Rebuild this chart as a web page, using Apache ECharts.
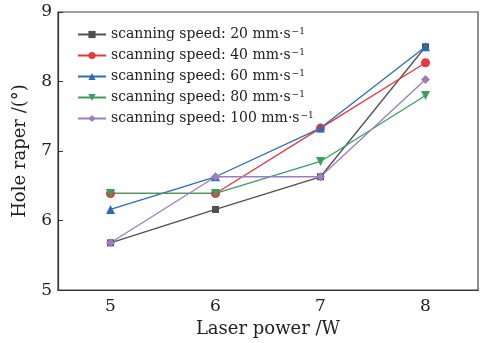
<!DOCTYPE html>
<html>
<head>
<meta charset="utf-8">
<script src="https://cdn.jsdelivr.net/npm/echarts@6/dist/echarts.min.js"></script>
<style>
  html, body { margin: 0; padding: 0; background: #fff; }
  #chart { width: 487px; height: 343px; }
</style>
</head>
<body>
<div id="chart"></div>
<script>
// Laser power (W) on the x axis
const powers = ['5', '6', '7', '8'];
// Scanning speeds (mm/s), one line each
const speeds = ['20', '40', '60', '80', '100'];
// Hole taper (degrees) per scanning speed
const taper20 = [5.68, 6.16, 6.63, 8.50];
const taper40 = [6.39, 6.39, 7.33, 8.27];
const taper60 = [6.16, 6.63, 7.33, 8.50];
const taper80 = [6.39, 6.39, 6.85, 7.80];
const taper100 = [5.68, 6.63, 6.63, 8.03];

const seriesData = [taper20, taper40, taper60, taper80, taper100];
const colors = ['#505050', '#e5393e', '#2b6db5', '#3b9e5e', '#9d7cc0'];
const symbols = ['rect', 'circle', 'triangle', 'triangle', 'diamond'];
const rotations = [0, 0, 0, 180, 0];
const sizes = [7, 9, 9, 9, 9];

const FONT = 'DejaVu Serif';

const chart = echarts.init(document.getElementById('chart'), null, { renderer: 'canvas' });

chart.setOption({
  animation: false,
  backgroundColor: '#fff',
  grid: {
    left: 58, right: 9, top: 12, bottom: 48,
    show: true, borderColor: '#444', borderWidth: 1.2, backgroundColor: 'transparent'
  },
  legend: {
    orient: 'vertical',
    left: 72, top: 22,
    itemWidth: 28, itemHeight: 9, itemGap: 6.5,
    data: speeds,
    formatter: name => 'scanning speed: ' + name + ' mm\u00b7s{sup|\u22121}',
    textStyle: {
      fontFamily: FONT, fontSize: 14, color: '#222',
      rich: {
        sup: { fontFamily: FONT, fontSize: 9, color: '#222', verticalAlign: 'top', padding: [0, 0, 6, 1] }
      }
    }
  },
  xAxis: {
    type: 'category',
    data: powers,
    boundaryGap: true,
    name: 'Laser power /W',
    nameLocation: 'middle',
    nameGap: 29,
    nameTextStyle: { fontFamily: FONT, fontSize: 18, color: '#222' },
    axisLine: { lineStyle: { color: '#333', width: 1.2 } },
    axisTick: { inside: true, alignWithLabel: true, length: 5, lineStyle: { color: '#333' } },
    axisLabel: { fontFamily: FONT, fontSize: 17, color: '#222', margin: 8 },
    splitLine: { show: false }
  },
  yAxis: {
    type: 'value',
    min: 5, max: 9, interval: 1,
    name: 'Hole raper /(\u00b0)',
    nameLocation: 'middle',
    nameGap: 29,
    nameTextStyle: { fontFamily: FONT, fontSize: 18, color: '#222' },
    axisLine: { show: true, lineStyle: { color: '#333', width: 1.2 } },
    axisTick: { show: true, inside: true, length: 5, lineStyle: { color: '#333' } },
    axisLabel: { fontFamily: FONT, fontSize: 17, color: '#222', margin: 6 },
    splitLine: { show: false }
  },
  series: speeds.map((s, i) => ({
    name: s,
    type: 'line',
    data: seriesData[i],
    color: colors[i],
    symbol: symbols[i],
    symbolRotate: rotations[i],
    symbolSize: sizes[i],
    showAllSymbol: true,
    lineStyle: { width: 1.3, color: colors[i] },
    itemStyle: { color: colors[i] }
  }))
});
</script>
</body>
</html>
